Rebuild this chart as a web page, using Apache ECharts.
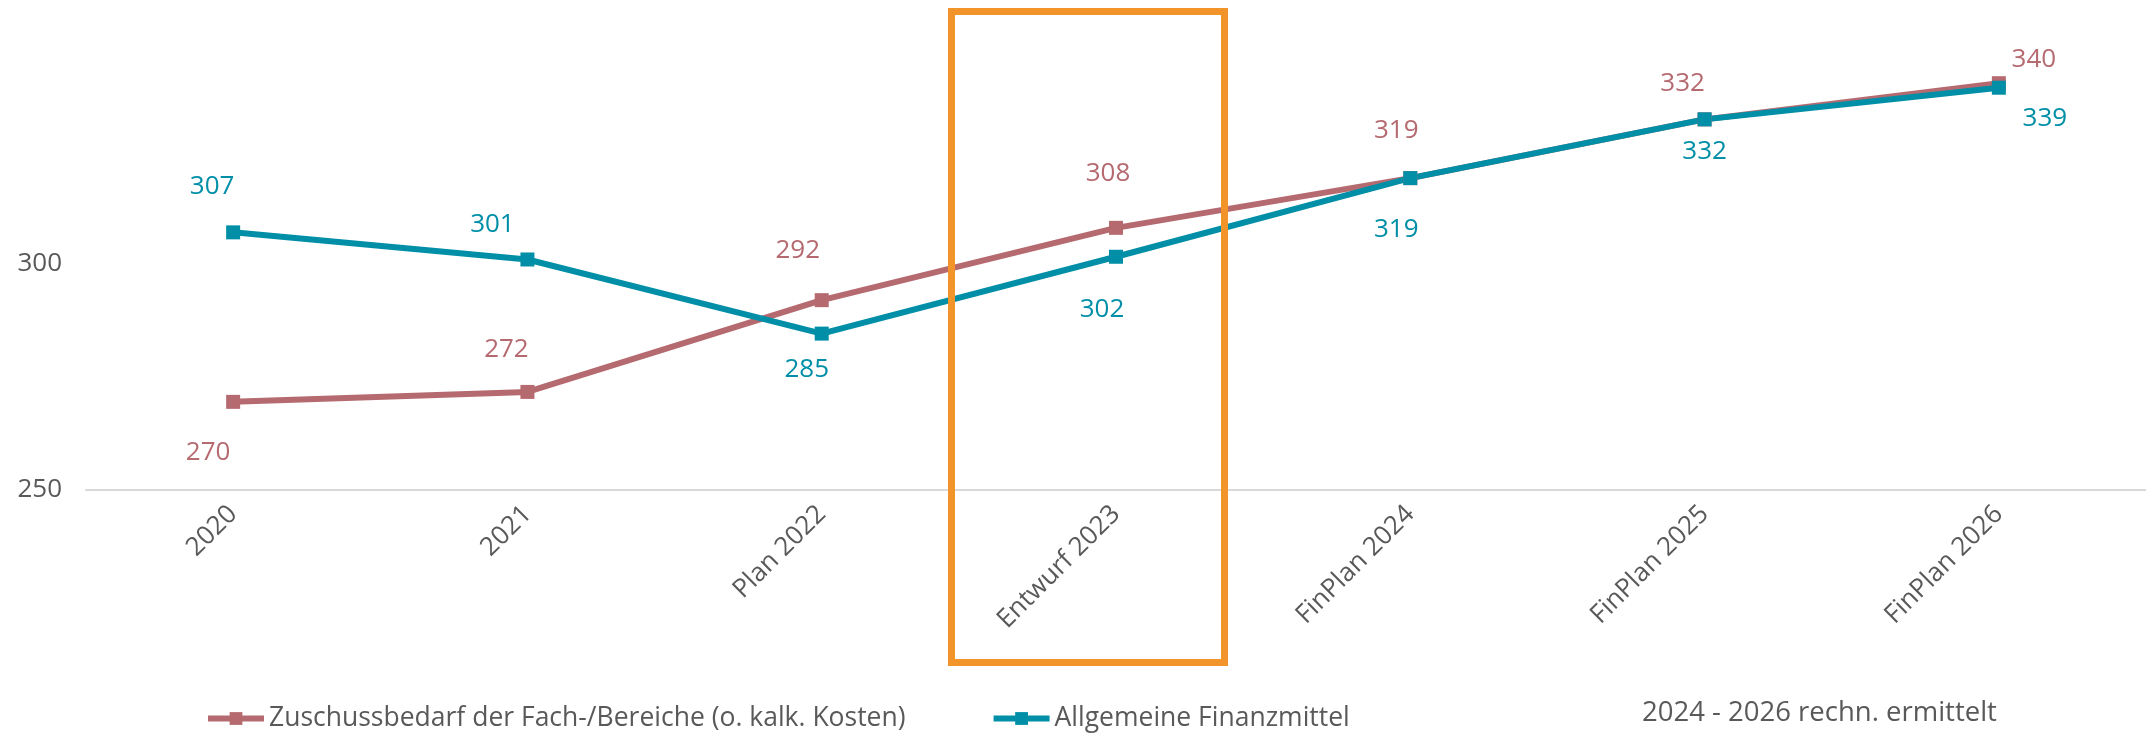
<!DOCTYPE html>
<html>
<head>
<meta charset="utf-8">
<script src="https://cdn.jsdelivr.net/npm/echarts@6/dist/echarts.min.js"></script>
<style>
  html, body { margin: 0; padding: 0; background: #ffffff; }
  #chart { width: 2146px; height: 735px; }
</style>
</head>
<body>
<div id="chart"></div>
<script>
// Kategorien und Werte
const categories = ['2020', '2021', 'Plan 2022', 'Entwurf 2023', 'FinPlan 2024', 'FinPlan 2025', 'FinPlan 2026']
const zuschussbedarf = [269.5, 271.7, 292, 308, 319, 332, 340]
const finanzmittel = [307, 301, 284.6, 301.6, 319, 332, 339]
const seriesNames = ['Zuschussbedarf der Fach-/Bereiche (o. kalk. Kosten)', 'Allgemeine Finanzmittel']
const noteText = '2024 - 2026 rechn. ermittelt'

// Farben
const redColor = '#B56A70'
const tealColor = '#008FA7'
const textColor = '#595959'
const axisColor = '#D9D9D9'
const boxColor = '#F29429'
const fontFamily = '"Open Sans", "Noto Sans", sans-serif'

// Lage der Datenbeschriftungen relativ zum Punkt (Layout, keine Daten)
const redLabelOffsets = [[-25, 51], [-21, -42], [-24, -50], [-8, -54], [-14, -48], [-22, -36], [35, -24]]
const tealLabelOffsets = [[-21, -46], [-35, -35], [-15, 36], [-14, 53], [-14, 51], [0, 32], [46, 31]]

function buildData(values, offsets) {
  return values.map((v, i) => ({
    value: v,
    label: { offset: offsets[i] }
  }))
}

function lineSeries(name, values, offsets, color) {
  return {
    name: name,
    type: 'line',
    data: buildData(values, offsets),
    symbol: 'rect',
    symbolSize: 14,
    lineStyle: { color: color, width: 6 },
    itemStyle: { color: color },
    label: {
      show: true,
      position: 'inside',
      color: color,
      fontSize: 26,
      fontFamily: fontFamily,
      formatter: (p) => Math.round(p.value)
    },
    emphasis: { disabled: true },
    animation: false
  }
}

const chart = echarts.init(document.getElementById('chart'))
chart.setOption({
  animation: false,
  grid: {
    left: 86,
    right: 0,
    top: 38,
    bottom: 245,
    containLabel: false
  },
  legend: {
    left: 200,
    top: 700,
    itemWidth: 56,
    itemHeight: 16,
    itemGap: 85,
    lineStyle: { width: 6 },
    textStyle: {
      color: textColor,
      fontSize: 26.5,
      fontFamily: fontFamily
    },
    data: seriesNames
  },
  xAxis: {
    type: 'category',
    data: categories,
    boundaryGap: true,
    axisLine: {
      lineStyle: { color: axisColor, width: 2 }
    },
    axisTick: { show: false },
    axisLabel: {
      interval: 0,
      rotate: 45,
      margin: 20,
      color: textColor,
      fontSize: 26,
      fontFamily: fontFamily
    }
  },
  yAxis: {
    type: 'value',
    min: 250,
    max: 350,
    interval: 50,
    axisLine: { show: false },
    axisTick: { show: false },
    splitLine: { show: false },
    axisLabel: {
      showMaxLabel: false,
      margin: 24,
      color: textColor,
      fontSize: 26,
      fontFamily: fontFamily
    }
  },
  graphic: [
    {
      type: 'rect',
      shape: { x: 951.5, y: 11.5, width: 273, height: 651 },
      style: { fill: 'none', stroke: boxColor, lineWidth: 7 },
      z: 100
    },
    {
      type: 'text',
      left: 1642,
      top: 699,
      style: {
        text: noteText,
        fill: textColor,
        fontSize: 27.5,
        fontFamily: fontFamily
      }
    }
  ],
  series: [
    lineSeries(seriesNames[0], zuschussbedarf, redLabelOffsets, redColor),
    lineSeries(seriesNames[1], finanzmittel, tealLabelOffsets, tealColor)
  ]
})
</script>
</body>
</html>
